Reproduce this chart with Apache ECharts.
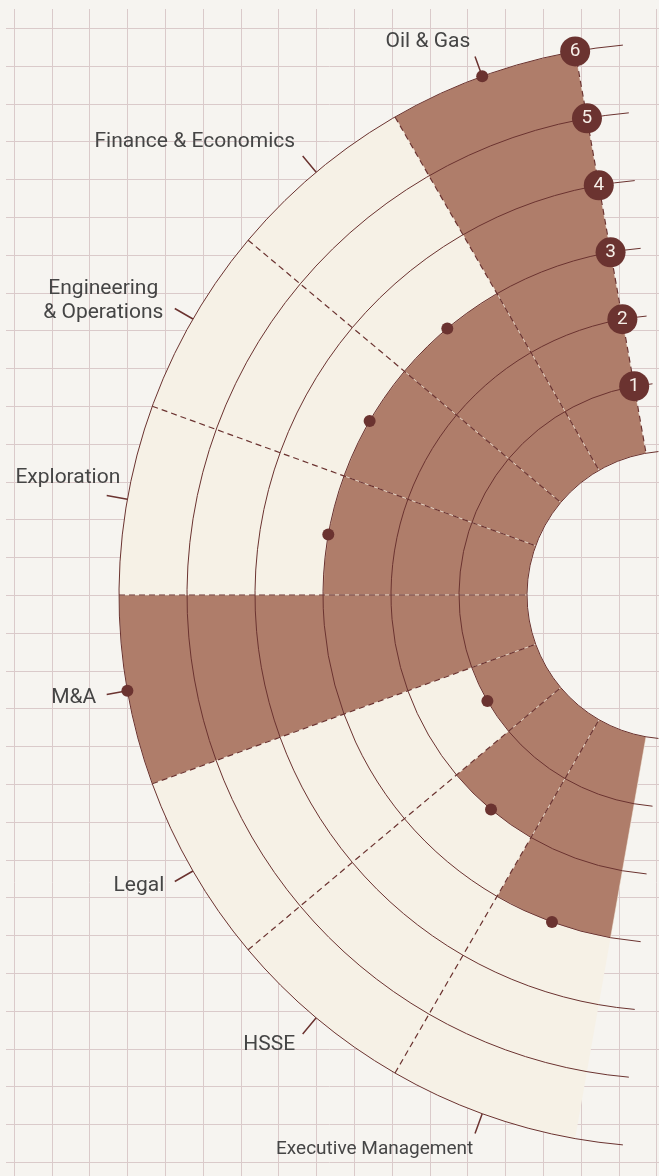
<!DOCTYPE html>
<html>
<head>
<meta charset="utf-8">
<script src="https://cdn.jsdelivr.net/npm/echarts@6/dist/echarts.min.js"></script>
<style>
    html, body { margin: 0; padding: 0; background: #f6f4f0; }
    #chart { width: 659px; height: 1176px; }
</style>
</head>
<body>
<div id="chart"></div>
<script>
// sectors, counter-clockwise from the top
const categories = [
    'Oil & Gas',
    'Finance & Economics',
    'Engineering\n& Operations',
    'Exploration',
    'M&A',
    'Legal',
    'HSSE',
    'Executive Management',
];
// level reached in each sector (rings 1..6)
const levels = [6, 3, 3, 3, 6, 1, 2, 3];
// ring numbers
const rings = ['1', '2', '3', '4', '5', '6'];

const START_ANGLE = 100;
const END_ANGLE = 260;
const RING_MAX = 6;
const LABEL_R = 6.3; // just past the outer ring, where the label ticks end

const BG = '#f6f4f0';
const CREAM = '#f6f1e6';
const BROWN = '#af7d6a';
const DARK = '#6b3330';
const GRID = '#dacaca';
const TEXT = '#454545';

const CENTER = [671, 595];
const RADIUS = [144, 552];

// label nudges, one per sector
const labelPlace = [
    { align: 'right', offset: [-5, -15], fontSize: 21 },
    { align: 'right', offset: [-8, -15], fontSize: 21 },
    { align: 'center', offset: [-72, -8], fontSize: 21 },
    { align: 'right', offset: [13, -18], fontSize: 21 },
    { align: 'right', offset: [-11, 3], fontSize: 21 },
    { align: 'right', offset: [-11, 5], fontSize: 21 },
    { align: 'right', offset: [-8, 11], fontSize: 21 },
    { align: 'right', offset: [-2, 16], fontSize: 19 },
];

// dashed sector borders: every start edge, not the closing one
const dashColors = categories.map(() => DARK).concat(['rgba(0,0,0,0)']);

const chart = echarts.init(document.getElementById('chart'));

const hidden = {
    axisLine: { show: false },
    axisTick: { show: false },
    axisLabel: { show: false },
    splitLine: { show: false },
    splitArea: { show: false },
};

const option = {
    backgroundColor: BG,
    animation: false,
    textStyle: { fontFamily: 'Roboto, sans-serif' },
    // paper grid
    grid: {
        left: -23.8, top: -9.5, width: 37.8 * 19, height: 37.8 * 33,
        show: false, containLabel: false, outerBoundsMode: 'none',
    },
    xAxis: {
        type: 'value', min: 0, max: 19, interval: 1,
        axisLine: { show: false }, axisTick: { show: false }, axisLabel: { show: false },
        splitLine: { show: true, lineStyle: { color: GRID, width: 1 } },
    },
    yAxis: {
        type: 'value', min: 0, max: 33, interval: 1,
        axisLine: { show: false }, axisTick: { show: false }, axisLabel: { show: false },
        splitLine: { show: true, lineStyle: { color: GRID, width: 1 } },
    },
    graphic: {
        elements: [
            { type: 'rect', z: 1, shape: { x: 0, y: 0, width: 6, height: 1176 }, style: { fill: BG } },
            { type: 'rect', z: 1, shape: { x: 0, y: 0, width: 659, height: 9 }, style: { fill: BG } },
        ],
    },
    polar: [
        { center: CENTER, radius: RADIUS }, // ring arcs, a little wider
        { center: CENTER, radius: RADIUS }, // sectors
        { center: CENTER, radius: RADIUS }, // label ticks
    ],
    angleAxis: [
        {
            polarIndex: 0, type: 'value', min: START_ANGLE - 5, max: END_ANGLE + 5,
            startAngle: START_ANGLE - 5, endAngle: END_ANGLE + 5, clockwise: false,
            ...hidden,
        },
        {
            polarIndex: 1, type: 'category', data: categories,
            startAngle: START_ANGLE, endAngle: END_ANGLE, clockwise: false, z: 4,
            ...hidden,
            splitLine: { show: true, lineStyle: { color: dashColors, width: 1.2, type: [6, 4] } },
        },
        {
            polarIndex: 2, type: 'category', data: categories,
            startAngle: START_ANGLE, endAngle: END_ANGLE, clockwise: false, z: 4,
            ...hidden,
            axisTick: { show: true, alignWithLabel: true, length: 21, lineStyle: { color: DARK, width: 1.5 } },
        },
    ],
    radiusAxis: [
        {
            polarIndex: 0, type: 'value', min: 0, max: RING_MAX, interval: 1, z: 4,
            ...hidden,
            splitLine: { show: true, lineStyle: { color: DARK, width: 1 } },
        },
        { polarIndex: 1, type: 'value', min: 0, max: RING_MAX, ...hidden },
        { polarIndex: 2, type: 'value', min: 0, max: RING_MAX, ...hidden },
    ],
    series: [
        {
            type: 'bar',
            coordinateSystem: 'polar',
            polarIndex: 1,
            data: levels,
            barCategoryGap: '0%',
            showBackground: true,
            backgroundStyle: { color: CREAM },
            itemStyle: { color: BROWN, borderColor: 'rgba(246,241,230,0.5)', borderWidth: 1 },
            z: 2,
        },
        {
            // level dots
            type: 'scatter',
            coordinateSystem: 'polar',
            polarIndex: 1,
            clip: false,
            symbolSize: 12,
            itemStyle: { color: DARK, opacity: 1 },
            data: levels.map((v, i) => [v, categories[i]]),
            z: 6,
        },
        {
            // sector names
            type: 'scatter',
            coordinateSystem: 'polar',
            polarIndex: 1,
            clip: false,
            symbolSize: 1,
            itemStyle: { color: 'transparent', opacity: 1 },
            data: categories.map((c, i) => ({
                value: [LABEL_R, c],
                label: {
                    align: labelPlace[i].align,
                    offset: labelPlace[i].offset,
                    fontSize: labelPlace[i].fontSize,
                },
            })),
            label: {
                show: true,
                position: 'inside',
                verticalAlign: 'middle',
                color: TEXT,
                opacity: 1,
                fontSize: 21,
                lineHeight: 24,
                formatter: (p) => p.value[1],
            },
            z: 6,
        },
        {
            // ring numbers
            type: 'scatter',
            coordinateSystem: 'polar',
            polarIndex: 0,
            clip: false,
            symbolSize: 30,
            itemStyle: { color: DARK, opacity: 1 },
            data: rings.map((r, i) => [i + 1, START_ANGLE]),
            label: {
                show: true,
                position: 'inside',
                color: '#f6efe8',
                opacity: 1,
                fontSize: 19,
                formatter: (p) => rings[p.dataIndex],
            },
            z: 7,
        },
    ],
};

chart.setOption(option);
</script>
</body>
</html>
